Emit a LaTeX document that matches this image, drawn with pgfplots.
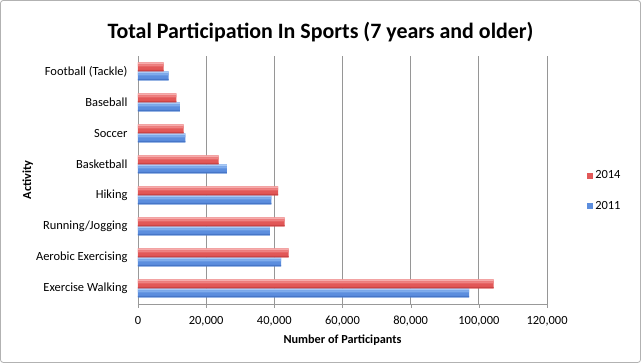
\documentclass[border=0pt]{standalone}
\usepackage{fontspec}
\setmainfont{Carlito}
\usepackage{pgfplots}
\usepackage{pgfplotstable}
\pgfplotsset{compat=1.18}
\definecolor{redA}{RGB}{246,172,172}
\definecolor{redB}{RGB}{238,130,130}
\definecolor{redC}{RGB}{226,88,88}
\definecolor{redD}{RGB}{204,68,68}
\definecolor{blueA}{RGB}{168,202,246}
\definecolor{blueB}{RGB}{128,172,236}
\definecolor{blueC}{RGB}{92,142,222}
\definecolor{blueD}{RGB}{70,118,200}
\definecolor{gridc}{RGB}{150,150,150}
\pgfplotstableread{
y   v2011   v2014
0   97100   104300
1   42000   44200
2   38700   43000
3   39100   41100
4   26100   23700
5   13900   13400
6   12300   11300
7   9000    7500
}\sports
\begin{document}
\begin{tikzpicture}
\draw[gray!60, line width=0.8bp, rounded corners=3bp] (0.5bp,0.5bp) rectangle (640.5bp,362.5bp);
\node[font=\fontsize{22}{24}\selectfont\bfseries] at (320.5bp,331bp) {Total Participation In Sports (7 years and older)};
\begin{axis}[
  at={(138bp,59bp)}, anchor=south west,
  scale only axis, width=409bp, height=248bp,
  xbar,
  xmin=0, xmax=120000, ymin=-0.5, ymax=7.5,
  xtick={0,20000,...,120000},
  scaled x ticks=false,
  xticklabel style={/pgf/number format/.cd, fixed, 1000 sep={,}, assume math mode=true, /tikz/.cd, yshift=-4.5bp},
  ytick={0,...,7},
  yticklabels={Exercise Walking, Aerobic Exercising, Running/Jogging, Hiking, Basketball, Soccer, Baseball, Football (Tackle)},
  yticklabel style={xshift=-3bp},
  ytick style={draw=none},
  extra y ticks={-0.5,0.5,...,7.5},
  extra y tick labels={{},{},{},{},{},{},{},{},{}},
  extra y tick style={tick style={draw=gray!80}, yticklabel={}},
  xtick style={draw=gray!80},
  tick align=outside, major tick length=4bp,
  axis x line*=bottom, axis y line*=left,
  axis line style={gray!80, -},
  xmajorgrids, grid style={gridc, line width=0.8bp},
  tick label style={font=\fontsize{12.5}{14}\selectfont},
  xlabel={\textbf{Number of Participants}},
  ylabel={\textbf{Activity}},
  label style={font=\fontsize{12.3}{14}\selectfont},
  xlabel style={at={(axis description cs:0.5,0)}, anchor=center, yshift=-36bp},
  ylabel style={at={(axis description cs:-0.269,0.5)}, anchor=center},
  legend style={at={(1.0978,0.456)}, anchor=west, draw=none, fill=none, font=\fontsize{12.5}{14}\selectfont, row sep=17bp, inner sep=0pt},
  legend cell align=left,
  reverse legend,
]
% 2011 (blue), below the category centre
\addplot[draw=none, fill=blueC, bar width=9bp, bar shift=-4.5bp,
  legend image code/.code={\fill[blueC] (0bp,-3bp) rectangle (6bp,3bp);}] table[x=v2011, y=y] {\sports};
\addlegendentry{2011}
% 2014 (red), above the category centre
\addplot[draw=none, fill=redC, bar width=9bp, bar shift=4.5bp,
  legend image code/.code={\fill[redC] (0bp,-3bp) rectangle (6bp,3bp);}] table[x=v2014, y=y] {\sports};
\addlegendentry{2014}
% gloss bands
\addplot[forget plot, draw=none, fill=blueA, bar width=2bp, bar shift=-1bp] table[x=v2011, y=y] {\sports};
\addplot[forget plot, draw=none, fill=blueB, bar width=2bp, bar shift=-3bp] table[x=v2011, y=y] {\sports};
\addplot[forget plot, draw=none, fill=blueD, bar width=1.5bp, bar shift=-8.25bp] table[x=v2011, y=y] {\sports};
\addplot[forget plot, draw=none, fill=redA, bar width=2bp, bar shift=8bp] table[x=v2014, y=y] {\sports};
\addplot[forget plot, draw=none, fill=redB, bar width=2bp, bar shift=6bp] table[x=v2014, y=y] {\sports};
\addplot[forget plot, draw=none, fill=redD, bar width=1.5bp, bar shift=0.75bp] table[x=v2014, y=y] {\sports};
\end{axis}
\end{tikzpicture}
\end{document}
